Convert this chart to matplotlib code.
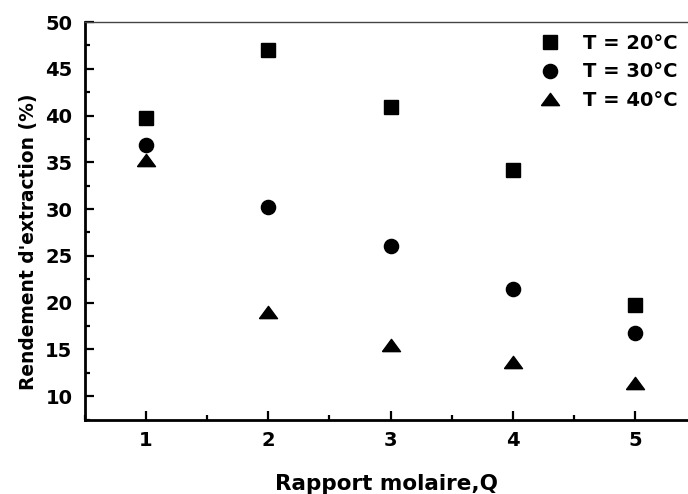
import matplotlib
matplotlib.use("Agg")
import matplotlib.pyplot as plt
from matplotlib.ticker import MultipleLocator

plt.rcParams['font.family'] = ['DejaVu Sans']
plt.rcParams['font.weight'] = 'bold'

# Extraction yield (%) versus molar ratio Q at three temperatures
ratio_q = [1, 2, 3, 4, 5]
yield_20 = [39.7, 47.0, 40.9, 34.2, 19.7]
yield_30 = [36.8, 30.2, 26.1, 21.5, 16.7]
yield_40 = [35.2, 19.0, 15.5, 13.6, 11.4]
series_labels = ['T = 20°C', 'T = 30°C', 'T = 40°C']
x_ticks = [1, 2, 3, 4, 5]
y_ticks = [10, 15, 20, 25, 30, 35, 40, 45, 50]

fig = plt.figure(figsize=(6.88, 4.94), dpi=100)
ax = fig.add_axes([85 / 688, 1 - 420 / 494, 1 - 85 / 688, (420 - 22) / 494])

wide_triangle = [(-1.0, -0.68), (1.0, -0.68), (0.0, 0.68), (-1.0, -0.68)]

ax.plot(ratio_q, yield_20, linestyle='none', marker='s', ms=9.5, color='black',
        label=series_labels[0])
ax.plot(ratio_q, yield_30, linestyle='none', marker='o', ms=10.2, color='black',
        label=series_labels[1])
ax.plot(ratio_q, yield_40, linestyle='none', marker=wide_triangle, ms=13,
        color='black', label=series_labels[2])

ax.set_xlim(0.5, 5.434)
ax.set_ylim(7.45, 50)
ax.set_xticks(x_ticks)
ax.set_yticks(y_ticks)
ax.xaxis.set_minor_locator(MultipleLocator(0.5))
ax.yaxis.set_minor_locator(MultipleLocator(2.5))

ax.tick_params(which='major', direction='in', length=6.5, width=1.6,
               labelsize=14, pad=8)
ax.tick_params(which='minor', direction='in', length=3.5, width=1.6)
ax.tick_params(axis='y', pad=9)
ax.tick_params(top=False, right=False, which='both')

for lab in ax.get_xticklabels() + ax.get_yticklabels():
    lab.set_fontweight('bold')

ax.spines['left'].set_linewidth(2.0)
ax.spines['bottom'].set_linewidth(2.0)
ax.spines['top'].set_linewidth(1.0)
ax.spines['top'].set_color('#444444')
ax.spines['right'].set_visible(False)

ax.set_xlabel('Rapport molaire,Q', fontsize=15.5, fontweight='bold', labelpad=17)
ax.set_ylabel("Rendement d'extraction (%)", fontsize=13.4, fontweight='bold')
ax.yaxis.set_label_coords(-0.078, 0.447)

leg = ax.legend(loc='upper right', bbox_to_anchor=(1.005, 1.005), frameon=False,
                fontsize=14, handletextpad=1.2, labelspacing=0.5,
                handlelength=1.0, borderaxespad=0.3)
for t in leg.get_texts():
    t.set_fontweight('bold')

fig.savefig('out.png', dpi=100)
